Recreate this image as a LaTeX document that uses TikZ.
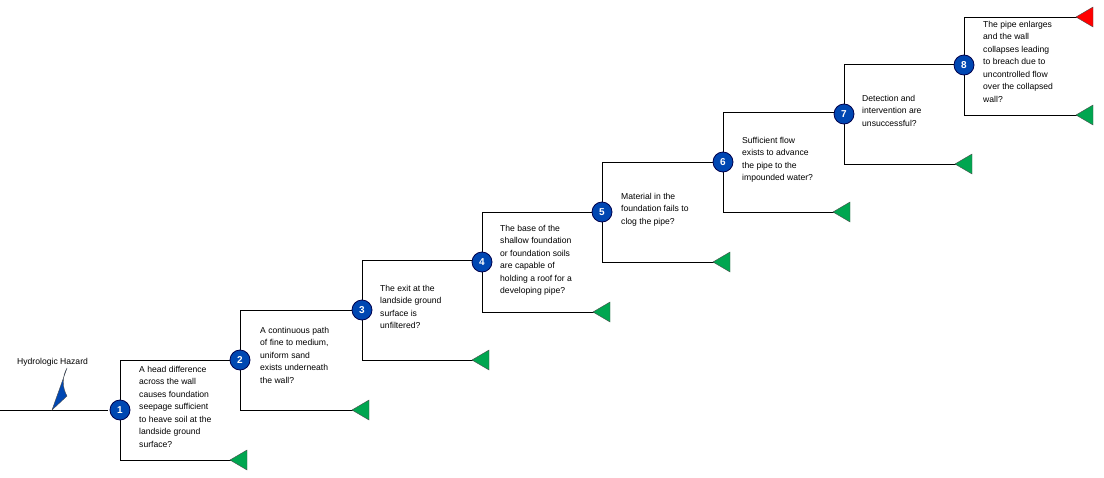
\documentclass[tikz,border=0pt]{standalone}
\usepackage{fontspec}
\setmainfont{Liberation Sans}
\begin{document}
\begin{tikzpicture}[x=1pt,y=-1pt,
  num/.style={circle,fill=blue!60!cyan!70!black,draw=blue!30!black,line width=0.8pt,minimum size=20pt,inner sep=0,text=white,font=\fontsize{10}{10}\selectfont\bfseries},
  txt/.style={anchor=north west,align=left,inner sep=0,font=\fontsize{8.6}{12.5}\selectfont},
  ln/.style={line width=0.7pt}]
\useasboundingbox (0,0) rectangle (1104,477);
\definecolor{gr}{HTML}{00A650}
\newcommand{\tri}[3]{\filldraw[fill=#3,draw=black!70,line width=0.4pt] (#1,#2) -- ++(17,-10) -- ++(0,20) -- cycle;}
% entry
\draw[ln] (0,410) -- (108,410);
\filldraw[fill=blue!60!cyan!70!black,draw=black!70,line width=0.4pt] (52,410) -- (67,396) arc (-30:30:-28) -- cycle;
\node[anchor=west,inner sep=0,font=\fontsize{8.6}{10}\selectfont] (hh) at (17,362) {Hydrologic Hazard};
% data: x y
\foreach \i/\x/\y/\t in {1/120/410/230,2/240/360/352,3/362/310/472,4/482/262/593,5/602/212/713,6/723/162/833,7/844/114/955}{
  \draw[ln] (\x,\y-50) -- (\x,\y+50) -- (\t+2,\y+50);
  \draw[ln] (\x,\y-50) -- (\x+120,\y-50);
  \tri{\t}{\y+50}{gr}
  \node[num] (n\i) at (\x,\y) {\i};
}
\draw[ln] (964,17) -- (964,115) -- (1078,115);
\draw[ln] (964,17) -- (1078,17);
\tri{1076}{17}{red}
\tri{1076}{115}{gr}
\node[num] (n8) at (964,65) {8};
\node[txt] at (139,366) {A head difference\\across the wall\\causes foundation\\seepage sufficient\\to heave soil at the\\landside ground\\surface?};
\node[txt] at (260,327) {A continuous path\\of fine to medium,\\uniform sand\\exists underneath\\the wall?};
\node[txt] at (380,285) {The exit at the\\landside ground\\surface is\\unfiltered?};
\node[txt] at (500,225) {The base of the\\shallow foundation\\or foundation soils\\are capable of\\holding a roof for a\\developing pipe?};
\node[txt] at (621,193) {Material in the\\foundation fails to\\clog the pipe?};
\node[txt] at (742,137) {Sufficient flow\\exists to advance\\the pipe to the\\impounded water?};
\node[txt] at (862,95) {Detection and\\intervention are\\unsuccessful?};
\node[txt] at (983,21) {The pipe enlarges\\and the wall\\collapses leading\\to breach due to\\uncontrolled flow\\over the collapsed\\wall?};
\end{tikzpicture}
\end{document}
